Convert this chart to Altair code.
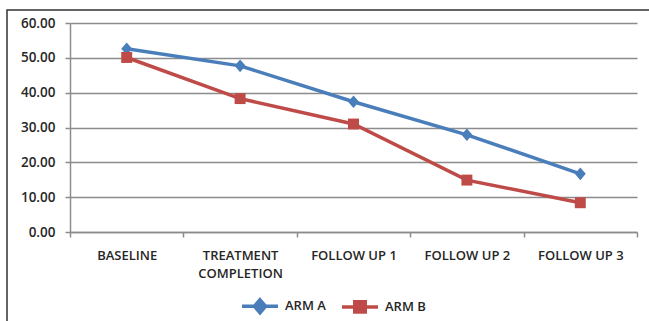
import altair as alt
import pandas as pd

categories = ["BASELINE", "TREATMENT COMPLETION", "FOLLOW UP 1", "FOLLOW UP 2", "FOLLOW UP 3"]
arm_a = [52.6, 47.7, 37.4, 27.9, 16.7]
arm_b = [50.1, 38.3, 31.0, 14.9, 8.4]
series = ["ARM A", "ARM B"]
colors = ["#4A7EBB", "#BE4B48"]

rows = []
for c, a, b in zip(categories, arm_a, arm_b):
    rows.append({"cat": c, "series": "ARM A", "value": a})
    rows.append({"cat": c, "series": "ARM B", "value": b})
df = pd.DataFrame(rows)

FONT = "Open Sans"
TXT = "#262626"
FW = 600

x_enc = alt.X(
    "cat:N",
    sort=categories,
    scale=alt.Scale(type="band", paddingInner=0, paddingOuter=0),
    axis=alt.Axis(
        title=None,
        labelAngle=0,
        tickBand="extent",
        labelExpr="datum.label == 'TREATMENT COMPLETION' ? ['TREATMENT', 'COMPLETION'] : datum.label",
        labelPadding=12,
        tickSize=5,
        domainColor="#8C8C8C",
        domainWidth=1.5,
        tickColor="#8C8C8C",
        tickWidth=1.5,
        labelFont=FONT,
        labelFontSize=13,
        labelFontWeight=FW,
        labelColor=TXT,
        labelLineHeight=18,
        grid=False,
    ),
    bandPosition=0.5,
)
y_enc = alt.Y(
    "value:Q",
    scale=alt.Scale(domain=[0, 60], nice=False),
    axis=alt.Axis(
        title=None,
        values=[0, 10, 20, 30, 40, 50, 60],
        format=".2f",
        tickSize=5,
        labelPadding=10,
        domainColor="#8C8C8C",
        domainWidth=1.5,
        tickColor="#8C8C8C",
        tickWidth=1.5,
        gridColor="#8C8C8C",
        gridWidth=1.5,
        labelFont=FONT,
        labelFontSize=13.5,
        labelFontWeight=FW,
        labelColor=TXT,
    ),
)

lines = alt.Chart(df).mark_line(strokeWidth=3.5).encode(
    x=x_enc, y=y_enc,
    color=alt.Color("series:N", scale=alt.Scale(domain=series, range=colors), legend=None),
)

points = alt.Chart(df).mark_point(filled=True, opacity=1, size=120).encode(
    x=x_enc, y=y_enc,
    color=alt.Color("series:N", scale=alt.Scale(domain=series, range=colors), legend=None),
    shape=alt.Shape("series:N", scale=alt.Scale(domain=series,
                    range=["M0,-1.15L1,0L0,1.15L-1,0Z", "M-1,-1L1,-1L1,1L-1,1Z"]), legend=None),
)

leg = dict(
    title=None, orient="none", direction="horizontal",
    legendX=179, legendY=272,
    labelFont=FONT, labelFontSize=13, labelFontWeight=FW, labelColor=TXT,
    symbolSize=324, symbolOpacity=1, symbolStrokeWidth=3.5,
    labelOffset=14, columnPadding=9,
)
legend_layer = alt.Chart(df).mark_point(opacity=0, size=0, strokeWidth=3.5).encode(
    x=x_enc, y=y_enc,
    fill=alt.Fill("series:N", scale=alt.Scale(domain=series, range=colors), legend=alt.Legend(**leg)),
    stroke=alt.Stroke("series:N", scale=alt.Scale(domain=series, range=colors), legend=alt.Legend(**leg)),
    shape=alt.Shape("series:N", scale=alt.Scale(domain=series,
                    range=["M-2,0L2,0M0,-0.72L0.62,0L0,0.72L-0.62,0Z",
                           "M-2,0L2,0M-0.58,-0.58L0.58,-0.58L0.58,0.58L-0.58,0.58Z"]),
                    legend=alt.Legend(**leg)),
)

frame = alt.Chart(pd.DataFrame({"k": [0]})).mark_rect(
    fill=None, stroke="#333333", strokeWidth=1.5
).encode(x=alt.value(-63), x2=alt.value(700), y=alt.value(-13), y2=alt.value(400))

chart = alt.layer(frame, lines, points, legend_layer).resolve_scale(
    shape="independent", color="independent", fill="independent", stroke="independent"
).properties(
    width=567, height=209,
    autosize=alt.AutoSizeParams(type="none"),
    padding={"left": 70, "top": 23, "right": 12, "bottom": 89},
    background="white",
).configure_view(stroke=None)

chart.save("out.html", embed_options={"renderer": "svg", "actions": False})
